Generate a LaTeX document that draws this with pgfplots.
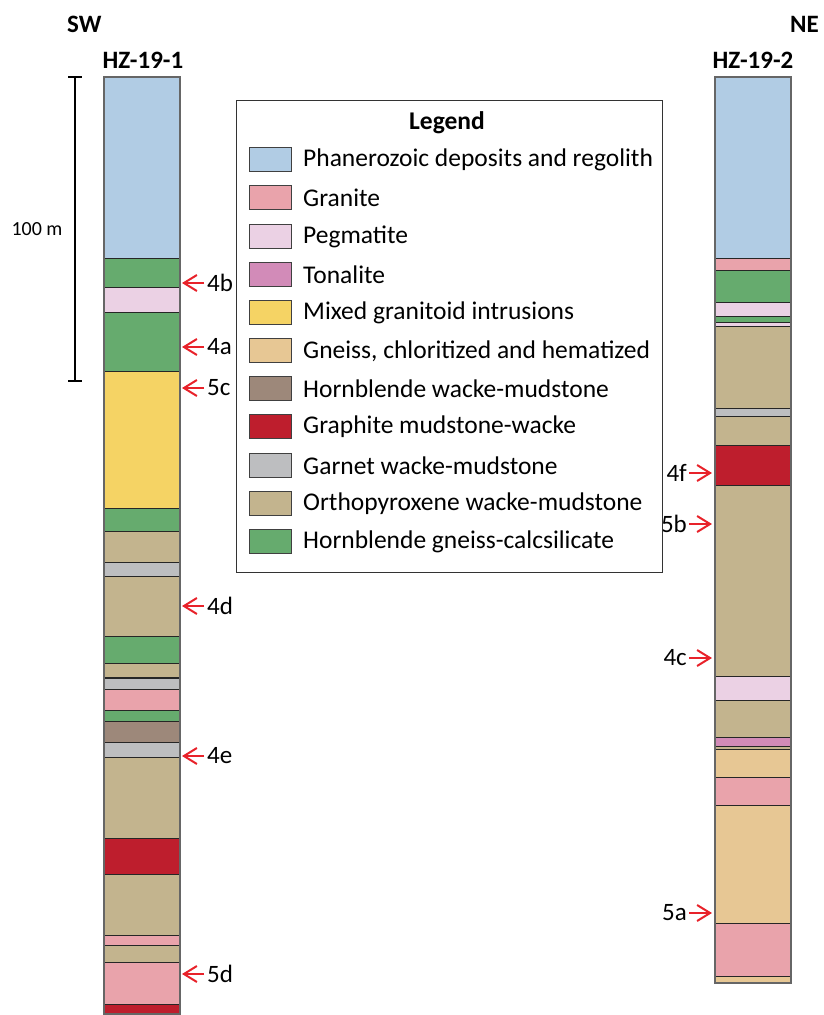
\documentclass[border=0pt]{standalone}
\usepackage{pgfplots}
\pgfplotsset{compat=1.18}
\usepackage{fontspec}
\setmainfont{Carlito}
\usetikzlibrary{arrows.meta}
\definecolor{cPhan}{HTML}{B1CCE4}
\definecolor{cGran}{HTML}{E9A3AB}
\definecolor{cPeg}{HTML}{EBD1E4}
\definecolor{cTon}{HTML}{D28BB8}
\definecolor{cMix}{HTML}{F5D364}
\definecolor{cGnc}{HTML}{E7C794}
\definecolor{cHwm}{HTML}{9D887A}
\definecolor{cGra}{HTML}{BE1E2D}
\definecolor{cGar}{HTML}{BDBEC0}
\definecolor{cOrt}{HTML}{C3B48E}
\definecolor{cHgc}{HTML}{66AB6E}
\definecolor{cArr}{HTML}{E8222A}
\newcommand{\lay}[5]{\addplot[fill=#5, draw=black!85, line width=0.9pt] coordinates {(#1,#3) (#2,#3) (#2,#4) (#1,#4)} -- cycle;}
\newcommand{\lcol}[3]{\lay{104}{180}{#1}{#2}{#3}}
\newcommand{\rcol}[3]{\lay{715}{791}{#1}{#2}{#3}}
\newcommand{\larr}[2]{\addplot[cArr, line width=2pt, -{Straight Barb[length=13pt,width=16pt]}] coordinates {(204,#1) (182,#1)};
  \node[anchor=west, font=\fontsize{25}{28}\selectfont, inner sep=0pt] at (axis cs:207,#1) {#2};}
\newcommand{\rarr}[2]{\addplot[cArr, line width=2pt, -{Straight Barb[length=13pt,width=16pt]}] coordinates {(689,#1) (712,#1)};
  \node[anchor=east, font=\fontsize{25}{28}\selectfont, inner sep=0pt] at (axis cs:687,#1) {#2};}
\newcommand{\leg}[3]{\addplot[fill=#2, draw=black!75, line width=0.7pt] coordinates {(249,#1-12) (291,#1-12) (291,#1+12) (249,#1+12)} -- cycle;
  \node[anchor=west, font=\fontsize{25.5}{28}\selectfont, inner sep=0pt] at (axis cs:303,#1+1) {#3};}
\begin{document}
\begin{tikzpicture}
\begin{axis}[scale only axis, width=823pt, height=1015pt,
  xmin=0, xmax=823, ymin=0, ymax=1015, y dir=reverse,
  hide axis, clip=false]
\addplot[draw=none] coordinates {(0,0) (823,1015)};
% left column HZ-19-1
\lcol{77}{258}{cPhan}
\lcol{258}{287}{cHgc}
\lcol{287}{312}{cPeg}
\lcol{312}{371}{cHgc}
\lcol{371}{508}{cMix}
\lcol{508}{531}{cHgc}
\lcol{531}{562}{cOrt}
\lcol{562}{576}{cGar}
\lcol{576}{636}{cOrt}
\lcol{636}{663}{cHgc}
\lcol{663}{677}{cOrt}
\lcol{677}{678.5}{cGra}
\lcol{678.5}{689}{cGar}
\lcol{689}{710}{cGran}
\lcol{710}{721}{cHgc}
\lcol{721}{742}{cHwm}
\lcol{742}{757}{cGar}
\lcol{757}{838}{cOrt}
\lcol{838}{874}{cGra}
\lcol{874}{935}{cOrt}
\lcol{935}{945}{cGran}
\lcol{945}{962}{cOrt}
\lcol{962}{1004}{cGran}
\lcol{1004}{1014}{cGra}
\addplot[draw=black!60, line width=1.4pt] coordinates {(104,77) (180,77) (180,1014) (104,1014)} -- cycle;
\addplot[draw=black!60, line width=2pt] coordinates {(104,77) (104,1014)};
% right column HZ-19-2
\rcol{77}{258}{cPhan}
\rcol{258}{270}{cGran}
\rcol{270}{302}{cHgc}
\rcol{302}{316}{cPeg}
\rcol{316}{322}{cHgc}
\rcol{322}{326}{cPeg}
\rcol{326}{408}{cOrt}
\rcol{408}{416}{cGar}
\rcol{416}{445}{cOrt}
\rcol{445}{485}{cGra}
\rcol{485}{676}{cOrt}
\rcol{676}{700}{cPeg}
\rcol{700}{737}{cOrt}
\rcol{737}{746}{cTon}
\rcol{746}{749}{cOrt}
\rcol{749}{777}{cGnc}
\rcol{777}{805}{cGran}
\rcol{805}{923}{cGnc}
\rcol{923}{976}{cGran}
\rcol{976}{983}{cGnc}
\addplot[draw=black!60, line width=1.4pt] coordinates {(715,77) (791,77) (791,983) (715,983)} -- cycle;
\addplot[draw=black!60, line width=2pt] coordinates {(715,77) (715,983)};
% scale bar
\addplot[black, line width=1.5pt] coordinates {(75,77) (75,381)};
\addplot[black, line width=1.5pt] coordinates {(68,77) (82,77)};
\addplot[black, line width=1.5pt] coordinates {(68,381) (82,381)};
\node[font=\fontsize{20}{24}\selectfont, inner sep=0pt] at (axis cs:37,229) {100 m};
% titles
\node[font=\fontsize{25}{28}\selectfont\bfseries, anchor=west, inner sep=0pt] at (axis cs:67,24) {SW};
\node[font=\fontsize{25}{28}\selectfont\bfseries, anchor=east, inner sep=0pt] at (axis cs:819,24) {NE};
\node[font=\fontsize{25}{28}\selectfont\bfseries, inner sep=0pt] at (axis cs:143,60) {HZ-19-1};
\node[font=\fontsize{25}{28}\selectfont\bfseries, inner sep=0pt] at (axis cs:753,60) {HZ-19-2};
% arrows
\larr{283}{4b}
\larr{347}{4a}
\larr{388}{5c}
\larr{606}{4d}
\larr{756}{4e}
\larr{974}{5d}
\rarr{473}{4f}
\rarr{524}{5b}
\rarr{658}{4c}
\rarr{913}{5a}
% legend
\addplot[draw=black!80, line width=0.8pt, fill=white] coordinates {(236,100) (662,100) (662,572) (236,572)} -- cycle;
\node[font=\fontsize{25.5}{28}\selectfont\bfseries, inner sep=0pt] at (axis cs:447,123) {Legend};
\leg{159}{cPhan}{Phanerozoic deposits and regolith}
\leg{197}{cGran}{Granite}
\leg{236}{cPeg}{Pegmatite}
\leg{274}{cTon}{Tonalite}
\leg{312}{cMix}{Mixed granitoid intrusions}
\leg{350}{cGnc}{Gneiss, chloritized and hematized}
\leg{388}{cHwm}{Hornblende wacke-mudstone}
\leg{426}{cGra}{Graphite mudstone-wacke}
\leg{465}{cGar}{Garnet wacke-mudstone}
\leg{503}{cOrt}{Orthopyroxene wacke-mudstone}
\leg{541}{cHgc}{Hornblende gneiss-calcsilicate}
\end{axis}
\end{tikzpicture}
\end{document}
